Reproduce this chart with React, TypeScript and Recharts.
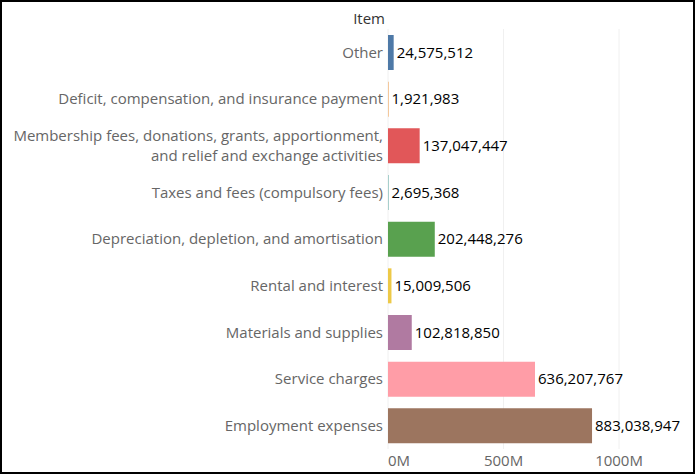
import { Bar, BarChart, CartesianGrid, Cell, LabelList, XAxis, YAxis } from "recharts";

const categories = [
  "Other",
  "Deficit, compensation, and insurance payment",
  "Membership fees, donations, grants, apportionment, and relief and exchange activities",
  "Taxes and fees (compulsory fees)",
  "Depreciation, depletion, and amortisation",
  "Rental and interest",
  "Materials and supplies",
  "Service charges",
  "Employment expenses",
];

const values = [
  24575512, 1921983, 137047447, 2695368, 202448276, 15009506, 102818850, 636207767, 883038947,
];

const colors = [
  "#4e79a7", "#f28e2b", "#e15759", "#76b7b2", "#59a14f", "#edc948", "#b07aa1", "#ff9da7", "#9c755f",
];

const xTicks = [0, 500000000, 1000000000];

const data = categories.map((item, i) => ({ item, value: values[i], color: colors[i] }));

const FONT = "'Open Sans', sans-serif";
const numberFormat = new Intl.NumberFormat("en-US");

// greedy wrap, roughly the width Tableau gives the row header
function wrap(text: string, maxChars = 52): string[] {
  const lines: string[] = [];
  let line = "";
  for (const word of text.split(" ")) {
    const next = line ? `${line} ${word}` : word;
    if (next.length > maxChars && line) {
      lines.push(line);
      line = word;
    } else {
      line = next;
    }
  }
  if (line) lines.push(line);
  return lines;
}

function CategoryTick({ x, y, payload }: any) {
  const lines = wrap(String(payload.value));
  const lineHeight = 20;
  const start = -((lines.length - 1) * lineHeight) / 2;
  return (
    <text x={x} y={y} textAnchor="end" fill="#666" fontSize={15} fontFamily={FONT}>
      {lines.map((l, i) => (
        <tspan key={i} x={x} y={y + start + i * lineHeight} dy="0.35em">
          {l}
        </tspan>
      ))}
    </text>
  );
}

function ValueTick({ x, y, payload }: any) {
  const v = Number(payload.value);
  return (
    <text
      x={x}
      y={y}
      dy="0.35em"
      textAnchor={v === 0 ? "start" : "middle"}
      fill="#666"
      fontSize={15}
      fontFamily={FONT}
    >
      {`${v / 1000000}M`}
    </text>
  );
}

export default function App() {
  return (
    <div
      style={{
        position: "fixed",
        left: 0,
        top: 0,
        width: 695,
        height: 474,
        boxSizing: "border-box",
        border: "2px solid #000",
        background: "#fff",
      }}
    >
      <div
        style={{
          position: "absolute",
          right: 695 - 4 - 383,
          top: 6,
          fontFamily: FONT,
          fontSize: 15,
          color: "#333",
        }}
      >
        Item
      </div>
      <BarChart
        width={691}
        height={470}
        data={data}
        layout="vertical"
        margin={{ top: 27, right: 0, bottom: 3, left: 0 }}
        barSize={35}
        style={{ overflow: "hidden" }}
      >
        <CartesianGrid horizontal={false} stroke="#f0f0f0" />
        <XAxis
          type="number"
          domain={[0, 1320000000]}
          ticks={xTicks}
          axisLine={false}
          tickLine={false}
          tick={<ValueTick />}
          height={20}
          tickSize={0}
          tickMargin={12}
          interval={0}
        />
        <YAxis
          type="category"
          dataKey="item"
          width={386}
          axisLine={false}
          tickLine={false}
          tickSize={0}
          tickMargin={5}
          tick={<CategoryTick />}
          interval={0}
        />
        <Bar dataKey="value" isAnimationActive={false}>
          {data.map((d) => (
            <Cell key={d.item} fill={d.color} />
          ))}
          <LabelList
            dataKey="value"
            position="right"
            offset={3}
            formatter={(v: any) => numberFormat.format(Number(v))}
            fill="#000"
            fontSize={15}
            fontFamily={FONT}
          />
        </Bar>
      </BarChart>
    </div>
  );
}
